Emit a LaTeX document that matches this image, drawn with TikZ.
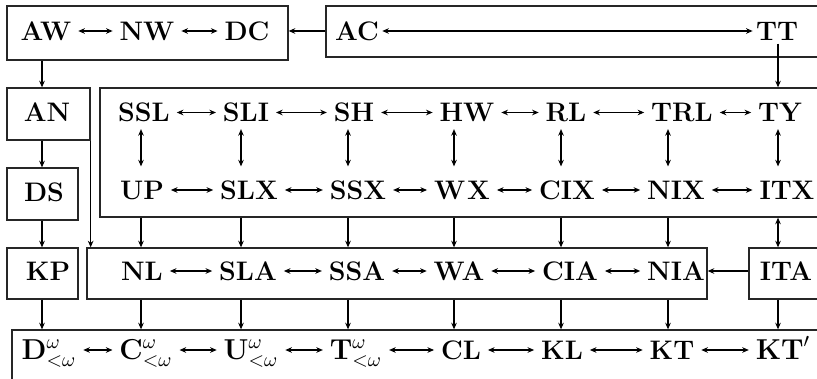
\documentclass[tikz,border=0pt]{standalone}
\usetikzlibrary{arrows.meta,fit}
\DeclareMathSizes{13.4}{13.4}{10.4}{8}
\begin{document}
\begin{tikzpicture}[x=0.5pt,y=-0.5pt,
  lbl/.style={font=\fontsize{13.4}{15}\selectfont\bfseries, inner sep=1.5pt, text height=9.2pt, text depth=0pt},
  box/.style={draw=black!85, line width=0.65pt, inner sep=0pt},
  con/.style={line width=0.55pt, -{Stealth[length=3.3pt,width=2.8pt]}},
  dbl/.style={line width=0.55pt, {Stealth[length=3.3pt,width=2.8pt]}-{Stealth[length=3.3pt,width=2.8pt]}},
  hdbl/.style={dbl, shorten <=1.8pt, shorten >=1.8pt},
  vdbl/.style={dbl, shorten <=2pt, shorten >=5.5pt},
]
\useasboundingbox (0,0) rectangle (817,379);
\clip (0,0) rectangle (817,379);
% column coordinates
\coordinate (c0) at (42,0);
\coordinate (c1) at (141,0);
\coordinate (c2) at (241,0);
\coordinate (c3) at (348,0);
\coordinate (c4) at (454,0);
\coordinate (c5) at (561,0);
\coordinate (c6) at (668,0);
\coordinate (c7) at (778,0);
% boxes
\node[box, fit={(7,6) (288,60)}] (bA) {};
\node[box, fit={(326,6) (840,57)}] (bB) {};
\node[box, fit={(7,88) (90,140)}] (bAN) {};
\node[box, fit={(7,168) (78,220)}] (bDS) {};
\node[box, fit={(100,88) (840,217)}] (bBig) {};
\node[box, fit={(7,248) (78,299)}] (bKP) {};
\node[box, fit={(87,248) (707,299)}] (bNL) {};
\node[box, fit={(749,248) (840,299)}] (bITA) {};
\node[box, fit={(12,330) (840,400)}] (bBot) {};
% row 1
\node[lbl] (aw) at (46,31) {AW};
\node[lbl] (nw) at (147,31) {NW};
\node[lbl] (dc) at (247,31) {DC};
\node[lbl] (ac) at (357,31) {AC};
\node[lbl] (tt) at (777,31) {TT};
% left column
\node[lbl] (an) at (47,112) {AN};
\node[lbl] (ds) at (44,192) {DS};
\node[lbl] (kp) at (48,271) {KP};
% row 2
\node[lbl] (ssl) at (144,112.5) {SSL};
\node[lbl] (sli) at (246,112.5) {SLI};
\node[lbl] (sh) at (354,112.5) {SH};
\node[lbl] (hw) at (467,112.5) {HW};
\node[lbl] (rl) at (566,112.5) {RL};
\node[lbl] (trl) at (682,112.5) {TRL};
\node[lbl] (ty) at (780,112.5) {TY};
% row 3
\node[lbl] (up) at (142,190) {UP};
\node[lbl] (slx) at (249,190) {SLX};
\node[lbl] (ssx) at (358,190) {SSX};
\node[lbl] (wx) at (462,190) {W\kern1pt X};
\node[lbl] (cix) at (567,190) {CIX};
\node[lbl] (nix) at (676,190) {NIX};
\node[lbl] (itx) at (787,190) {ITX};
% row 4
\node[lbl] (nl) at (142,271) {NL};
\node[lbl] (sla) at (248,271) {SLA};
\node[lbl] (ssa) at (357,271) {SSA};
\node[lbl] (wa) at (459,271) {WA};
\node[lbl] (cia) at (570,271) {CIA};
\node[lbl] (nia) at (676,271) {NIA};
\node[lbl] (ita) at (786,271) {ITA};
% row 5
\node[lbl] (d) at (49,350) {$\mathbf{D}^{\omega}_{<\omega}$};
\node[lbl] (c) at (146,350) {$\mathbf{C}^{\omega}_{<\omega}$};
\node[lbl] (u) at (251,350) {$\mathbf{U}^{\omega}_{<\omega}$};
\node[lbl] (t) at (356,350) {$\mathbf{T}^{\omega}_{<\omega}$};
\node[lbl] (cl) at (461,350) {CL};
\node[lbl] (kl) at (562,350) {KL};
\node[lbl] (kt) at (672,350) {KT};
\node[lbl] (ktp) at (783,350) {$\mathbf{KT}'$};
% row arrows
\draw[hdbl] (aw) -- (nw);
\draw[hdbl] (nw) -- (dc);
\draw[dbl] (ac) -- (tt);
\draw[con] (bB.west |- ac) -- (bA.east |- ac);
\foreach \a/\b in {ssl/sli,sli/sh,sh/hw,hw/rl,rl/trl,trl/ty,
                   up/slx,slx/ssx,ssx/wx,wx/cix,cix/nix,nix/itx,
                   nl/sla,sla/ssa,ssa/wa,wa/cia,cia/nia,
                   d/c,c/u,u/t,t/cl,cl/kl,kl/kt,kt/ktp}
  \draw[hdbl] (\a) -- (\b);
% vertical double arrows inside big box
\draw[vdbl] (ssl.south -| c1) -- (up.north -| c1);
\draw[vdbl] (sli.south -| c2) -- (slx.north -| c2);
\draw[vdbl] (sh.south -| c3) -- (ssx.north -| c3);
\draw[vdbl] (hw.south -| c4) -- (wx.north -| c4);
\draw[vdbl] (rl.south -| c5) -- (cix.north -| c5);
\draw[vdbl] (trl.south -| c6) -- (nix.north -| c6);
\draw[vdbl] (ty.south -| c7) -- (itx.north -| c7);
% left column arrows
\draw[con] (bA.south -| c0) -- (bAN.north -| c0);
\draw[con] (bAN.south -| c0) -- (bDS.north -| c0);
\draw[con] (bDS.south -| c0) -- (bKP.north -| c0);
\draw[con] (bKP.south -| c0) -- (bBot.north -| c0);
\draw[con] (bAN.south east) -- (bAN.south east |- bNL.north);
% TT down
\draw[con] (tt.south -| c7) -- (bBig.north -| c7);
% big box to NL box
\foreach \k in {c1,c2,c3,c4,c5,c6}{
  \draw[con] (bBig.south -| \k) -- (bNL.north -| \k);
  \draw[con] (bNL.south -| \k) -- (bBot.north -| \k);
}
\draw[dbl] (bBig.south -| c7) -- (bITA.north -| c7);
\draw[con] (bITA.west |- ita) -- (bNL.east |- ita);
\draw[con] (bITA.south -| c7) -- (bBot.north -| c7);
\end{tikzpicture}
\end{document}
